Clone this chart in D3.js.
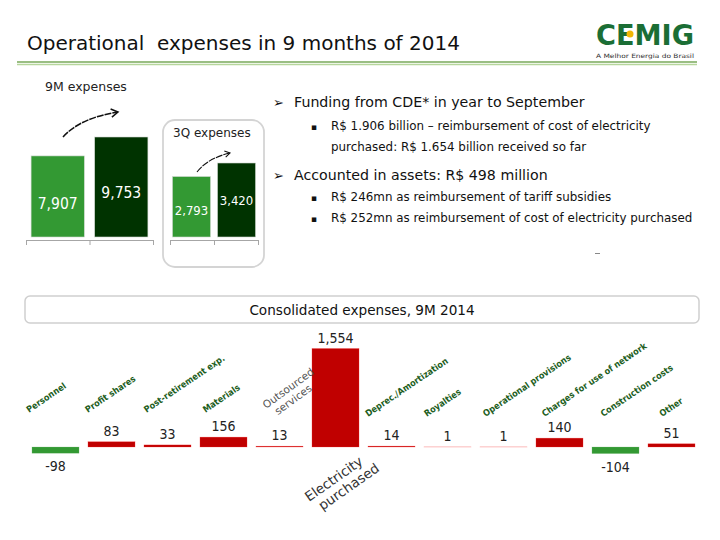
<!DOCTYPE html>
<html><head><meta charset="utf-8">
<script src="https://cdn.jsdelivr.net/npm/d3@7"></script>
<style>
body{margin:0;background:#fff;}
text{font-family:"DejaVu Sans",sans-serif;}
.cd{font-family:"DejaVu Sans Condensed","DejaVu Sans",sans-serif;font-stretch:condensed;}
</style></head>
<body><svg id="c" width="720" height="540"></svg>
<script>
// ---- data ----
const ninemCats = ["9M 2013", "9M 2014"];
const ninemValues = [7907, 9753];
const q3Cats = ["3Q 2013", "3Q 2014"];
const q3Values = [2793, 3420];
const cats = ["Personnel","Profit shares","Post-retirement exp.","Materials","Outsourced services","Electricity purchased","Deprec./Amortization","Royalties","Operational provisions","Charges for use of network","Construction costs","Other"];
const variations = [-98, 83, 33, 156, 13, 1554, 14, 1, 1, 140, -104, 51];
const fmt = d => d3.format(",")(d).replace("\u2212", "-");

const svg = d3.select("#c");

// ---- header ----
svg.append("text").attr("x", 27).attr("y", 50).attr("font-size", 20).attr("fill", "#111")
  .style("white-space", "pre").text("Operational  expenses in 9 months of 2014");
svg.append("line").attr("x1", 17).attr("x2", 697).attr("y1", 62).attr("y2", 62).attr("stroke", "#79a85a").attr("stroke-width", 1.5);
svg.append("line").attr("x1", 17).attr("x2", 697).attr("y1", 64.5).attr("y2", 64.5).attr("stroke", "#b6d69c").attr("stroke-width", 1.5);
// logo
svg.append("text").attr("x", 596).attr("y", 44.5).attr("font-size", 28).attr("font-weight", "bold")
  .attr("fill", "#1b6e35").attr("textLength", 98).attr("lengthAdjust", "spacingAndGlyphs").text("CEMIG");
svg.append("circle").attr("cx", 630).attr("cy", 34).attr("r", 3.5).attr("fill", "#f2b705");
svg.append("text").attr("x", 596).attr("y", 57.5).attr("font-size", 6).attr("fill", "#333")
  .attr("textLength", 98).attr("lengthAdjust", "spacingAndGlyphs").text("A Melhor Energia do Brasil");

// ---- small bar charts ----
function smallChart(cfg) {
  const x = d3.scaleBand().domain(cfg.cats).range(cfg.xr).paddingInner(cfg.pi).paddingOuter(cfg.po);
  const y = d3.scaleLinear().domain([0, d3.max(cfg.values)]).range([cfg.base, cfg.top]);
  const g = svg.append("g");
  g.selectAll("rect").data(cfg.values).join("rect")
    .attr("x", (d, i) => x(cfg.cats[i])).attr("width", x.bandwidth())
    .attr("y", d => y(d)).attr("height", d => y(0) - y(d))
    .attr("fill", (d, i) => cfg.colors[i]).attr("stroke", "#cfd8cf").attr("stroke-width", 0.6);
  g.selectAll("text.v").data(cfg.values).join("text").attr("class", "v cd")
    .attr("x", (d, i) => x(cfg.cats[i]) + x.bandwidth() / 2)
    .attr("y", (d, i) => (y(d) + y(0)) / 2 + cfg.labelShift[i])
    .attr("text-anchor", "middle").attr("font-size", cfg.fs).attr("fill", "#fff").text(d => fmt(d));
  const ax = d3.scaleLinear().domain([0, cfg.cats.length]).range([cfg.xr[0], cfg.xr[1]]);
  const axis = d3.axisBottom(ax).tickValues(d3.range(cfg.cats.length + 1)).tickFormat("").tickSize(5).tickSizeOuter(0);
  const ag = svg.append("g").attr("transform", `translate(0,${cfg.base + 3})`).call(axis);
  ag.selectAll("path,line").attr("stroke", "#a6a6a6");
  return {x, y};
}

svg.append("text").attr("x", 45).attr("y", 91).attr("font-size", 12.5).attr("fill", "#222").text("9M expenses");
smallChart({cats: ninemCats, values: ninemValues, xr: [26, 153], pi: 0.163, po: 0.08, base: 237, top: 137,
  colors: ["#339933", "#003300"], fs: 15.5, labelShift: [13, 11]});

svg.append("rect").attr("x", 163).attr("y", 120).attr("width", 101).attr("height", 147).attr("rx", 12)
  .attr("fill", "none").attr("stroke", "#d4d4d4").attr("stroke-width", 1.8);
svg.append("text").attr("x", 173).attr("y", 137).attr("font-size", 12).attr("fill", "#222").text("3Q expenses");
smallChart({cats: q3Cats, values: q3Values, xr: [170, 258], pi: 0.156, po: 0.055, base: 237, top: 163,
  colors: ["#339933", "#003300"], fs: 13, labelShift: [8, 5]});

// arrows
function arrow(x1, y1, cx, cy, x2, y2, hs, w) {
  svg.append("path").attr("d", `M${x1},${y1} Q${cx},${cy} ${x2},${y2}`).attr("fill", "none")
    .attr("stroke", "#111").attr("stroke-width", w).attr("stroke-dasharray", "7,1");
  const a = Math.atan2(y2 - cy, x2 - cx);
  const p1 = [x2 - hs * Math.cos(a - 0.55), y2 - hs * Math.sin(a - 0.55)];
  const p2 = [x2 - hs * Math.cos(a + 0.55), y2 - hs * Math.sin(a + 0.55)];
  svg.append("path").attr("d", `M${p1} L${x2},${y2} L${p2}`).attr("fill", "none").attr("stroke", "#111").attr("stroke-width", w);
}
arrow(63, 137, 80, 118, 118, 112, 8, 1.5);
arrow(197, 172, 208, 158, 230, 153, 6, 1.1);

// ---- bullet text ----
const T = svg.append("g").attr("fill", "#111");
T.append("text").attr("x", 273).attr("y", 107).attr("font-size", 13).text("➢");
T.append("text").attr("x", 294).attr("y", 107).attr("font-size", 14.2).text("Funding from CDE* in year to September");
T.append("text").attr("x", 311).attr("y", 130).attr("font-size", 9).text("▪");
T.append("text").attr("x", 331).attr("y", 130).attr("font-size", 11.9).text("R$ 1.906 billion – reimbursement of cost of electricity");
T.append("text").attr("x", 331).attr("y", 151).attr("font-size", 11.9).text("purchased: R$ 1.654 billion received so far");
T.append("text").attr("x", 273).attr("y", 180).attr("font-size", 13).text("➢");
T.append("text").attr("x", 294).attr("y", 180).attr("font-size", 14.2).text("Accounted in assets: R$ 498 million");
T.append("text").attr("x", 311).attr("y", 201).attr("font-size", 9).text("▪");
T.append("text").attr("x", 331).attr("y", 201).attr("font-size", 11.9).text("R$ 246mn as reimbursement of tariff subsidies");
T.append("text").attr("x", 311).attr("y", 222).attr("font-size", 9).text("▪");
T.append("text").attr("x", 331).attr("y", 222).attr("font-size", 11.9).text("R$ 252mn as reimbursement of cost of electricity purchased");
svg.append("line").attr("x1", 595).attr("x2", 600).attr("y1", 253.5).attr("y2", 253.5).attr("stroke", "#888");

// ---- consolidated box ----
svg.append("rect").attr("x", 25).attr("y", 296).attr("width", 674).attr("height", 27).attr("rx", 5)
  .attr("fill", "#fff").attr("stroke", "#cfcfcf").attr("stroke-width", 1.5);
svg.append("text").attr("x", 362).attr("y", 315).attr("text-anchor", "middle").attr("font-size", 13.6)
  .attr("fill", "#111").text("Consolidated expenses, 9M 2014");

// ---- variation chart ----
const x = d3.scaleBand().domain(cats).range([27.5, 699.5]).paddingInner(0.16).paddingOuter(0.08);
const y = d3.scaleLinear().domain([0, 1554]).range([447, 348.5]);
const vg = svg.append("g");
vg.selectAll("rect").data(variations).join("rect")
  .attr("x", (d, i) => x(cats[i])).attr("width", x.bandwidth())
  .attr("y", d => Math.min(y(d), y(0))).attr("height", d => Math.abs(y(d) - y(0)))
  .attr("fill", d => d < 0 ? "#339933" : "#c00000")
  .attr("stroke", d => d < 0 ? "#7fc07f" : "#ff3b3b").attr("stroke-width", 0.5).attr("stroke-opacity", 0.5);
vg.selectAll("text.v").data(variations).join("text").attr("class", "v cd")
  .attr("x", (d, i) => x(cats[i]) + x.bandwidth() / 2)
  .attr("y", d => d < 0 ? y(d) + 18 : y(d) - 6)
  .attr("text-anchor", "middle").attr("font-size", 14).attr("fill", "#222").text(d => fmt(d));

// category labels
cats.forEach((c, i) => {
  const bx = x(c);
  if (c === "Outsourced services") {
    const t = vg.append("text").attr("transform", `translate(${bx + 10},${409}) rotate(-36)`)
      .attr("font-size", 10.5).attr("fill", "#555");
    t.append("tspan").attr("x", 0).attr("dy", 0).text("Outsourced");
    t.append("tspan").attr("x", 6).attr("dy", 12).text("services");
  } else if (c === "Electricity purchased") {
    const t = vg.append("text").attr("transform", `translate(${bx - 3},${502}) rotate(-35)`)
      .attr("font-size", 13.5).attr("fill", "#333");
    t.append("tspan").attr("x", 0).attr("dy", 0).text("Electricity");
    t.append("tspan").attr("x", 6).attr("dy", 15).text("purchased");
  } else {
    const lx = bx + (i % 6) * 2.8 - (i < 6 ? 3 : 0);
    vg.append("text").attr("class", "cd").attr("transform", `translate(${lx},${i < 6 ? 413 : 417}) rotate(-34)`)
      .attr("font-size", 9).attr("font-weight", "bold").attr("fill", "#1d5e1d").text(c);
  }
});
</script></body></html>
